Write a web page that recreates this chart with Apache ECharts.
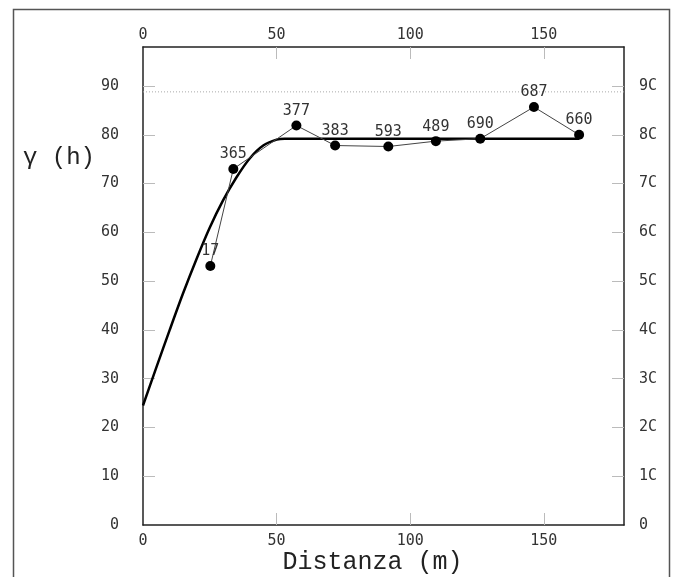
<!DOCTYPE html>
<html>
<head>
<meta charset="utf-8">
<script src="https://cdn.jsdelivr.net/npm/echarts@6/dist/echarts.min.js"></script>
<style>
  html, body { margin: 0; padding: 0; background: #fff; }
  #chart { width: 675px; height: 577px; }
</style>
</head>
<body>
<div id="chart"></div>
<script>
// experimental variogram points: distance, gamma, number of pairs
const lagDist = [25.2, 33.8, 57.4, 71.9, 91.8, 109.6, 126.2, 146.3, 163.2]
const gammaVals = [53.1, 73.0, 81.9, 77.8, 77.6, 78.7, 79.2, 85.7, 80.0]
const pairCounts = [17, 365, 377, 383, 593, 489, 690, 687, 660]

// fitted model
const modelDist = [0, 5, 10, 15, 20, 25, 30, 35, 40, 45, 50, 53, 163.2]
const modelVals = [24.5, 32.3, 40.0, 47.5, 54.5, 61.0, 66.6, 71.3, 75.2, 77.8, 79.0, 79.2, 79.2]

const sillValue = 88.8
const xTickValues = [0, 50, 100, 150]
const xInnerTicks = [50, 100, 150]
const yInnerTicks = [10, 20, 30, 40, 50, 60, 70, 80, 90]
const yLeftLabels = ["0", "10", "20", "30", "40", "50", "60", "70", "80", "90"]
const yRightLabels = ["0", "1C", "2C", "3C", "4C", "5C", "6C", "7C", "8C", "9C"]

const chart = echarts.init(document.getElementById("chart"))

const tickFont = {
  fontFamily: "DejaVu Sans Mono",
  fontSize: 15,
  color: "#333"
}
const frameLine = { show: true, onZero: false, lineStyle: { color: "#222", width: 1.5 } }
const xTick = { show: true, inside: true, length: 12, customValues: xInnerTicks, lineStyle: { color: "#bbb" } }
const yTick = { show: true, inside: true, length: 12, customValues: yInnerTicks, lineStyle: { color: "#bbb" } }

const xLabel = (v) => (xTickValues.indexOf(v) >= 0 ? String(v) : "")

const options = {
  animation: false,
  backgroundColor: "#fff",
  grid: { left: 143, right: 51, top: 47, bottom: 52, outerBoundsMode: "none", containLabel: false },
  graphic: [
    {
      type: "rect",
      shape: { x: 13.5, y: 9.5, width: 656, height: 600 },
      style: { fill: "none", stroke: "#555", lineWidth: 1.5 }
    },
    {
      type: "text",
      left: 23,
      top: 146,
      style: {
        text: "γ (h)",
        fontFamily: "Liberation Mono",
        fontSize: 24,
        fill: "#222"
      }
    }
  ],
  xAxis: [
    {
      type: "value",
      position: "bottom",
      min: 0,
      max: 180,
      interval: 50,
      name: "Distanza (m)",
      nameLocation: "middle",
      nameGap: 25,
      nameMoveOverlap: false,
      nameTextStyle: {
        fontFamily: "Liberation Mono",
        fontSize: 25,
        color: "#222",
        padding: [0, 22, 0, 0]
      },
      axisLine: frameLine,
      axisTick: xTick,
      splitLine: { show: false },
      axisLabel: Object.assign({ margin: 9, formatter: xLabel, showMaxLabel: false }, tickFont)
    },
    {
      type: "value",
      position: "top",
      min: 0,
      max: 180,
      interval: 50,
      axisLine: frameLine,
      axisTick: xTick,
      splitLine: { show: false },
      axisLabel: Object.assign({ margin: 4, formatter: xLabel, showMaxLabel: false }, tickFont)
    }
  ],
  yAxis: [
    {
      type: "value",
      position: "left",
      min: 0,
      max: 98,
      interval: 10,
      axisLine: frameLine,
      axisTick: yTick,
      splitLine: { show: false },
      axisLabel: Object.assign({
        margin: 24,
        formatter: (v) => yLeftLabels[v / 10] || ""
      }, tickFont)
    },
    {
      type: "value",
      position: "right",
      min: 0,
      max: 98,
      interval: 10,
      axisLine: frameLine,
      axisTick: yTick,
      splitLine: { show: false },
      axisLabel: Object.assign({
        margin: 15,
        formatter: (v) => yRightLabels[v / 10] || ""
      }, tickFont)
    }
  ],
  series: [
    {
      name: "sill",
      type: "line",
      data: [[0, sillValue], [180, sillValue]],
      symbol: "none",
      silent: true,
      lineStyle: { color: "#aaa", width: 1, type: [1, 2] }
    },
    {
      name: "model",
      type: "line",
      data: modelDist.map((d, i) => [d, modelVals[i]]),
      symbol: "none",
      smooth: 0.3,
      lineStyle: { color: "#000", width: 2.5 },
      z: 3
    },
    {
      name: "experimental",
      type: "line",
      data: lagDist.map((d, i) => [d, gammaVals[i]]),
      symbol: "circle",
      symbolSize: 10,
      itemStyle: { color: "#000" },
      lineStyle: { color: "#444", width: 1 },
      label: {
        show: true,
        position: "top",
        distance: 2,
        fontFamily: "DejaVu Sans Mono",
        fontSize: 15,
        color: "#333",
        formatter: (p) => String(pairCounts[p.dataIndex])
      },
      z: 4
    }
  ]
}

chart.setOption(options)
</script>
</body>
</html>
